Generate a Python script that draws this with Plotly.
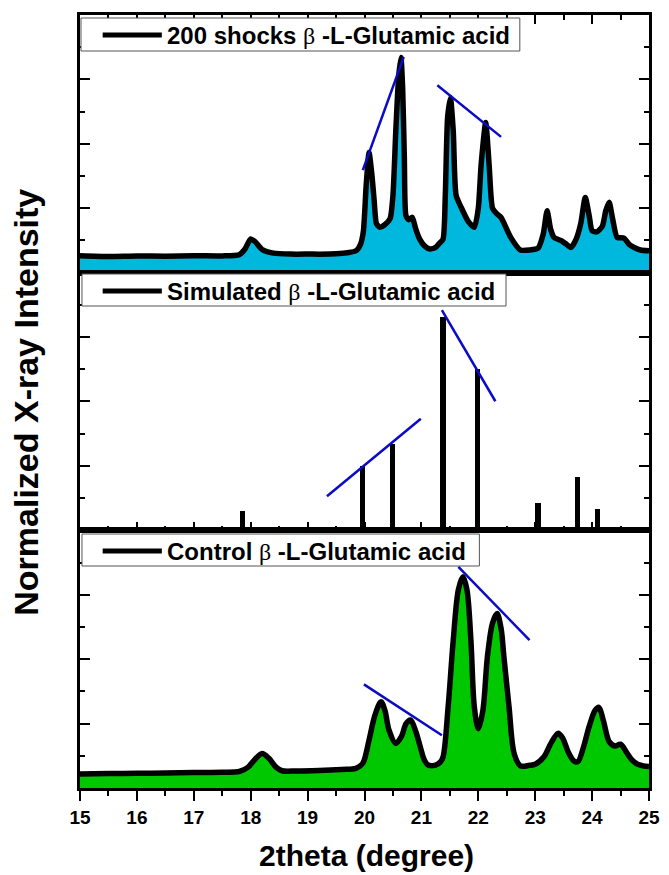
import plotly.graph_objects as go
from plotly.subplots import make_subplots

# ---------------- data (normalized intensity, % of panel height) ----------------
shock_x = [15.0, 15.5, 16.0, 16.5, 17.0, 17.5, 17.8, 17.9, 18.0, 18.08, 18.2, 18.4, 18.7, 19.0, 19.5,
           19.85, 19.93, 19.98, 20.03, 20.08, 20.13, 20.17, 20.21, 20.27, 20.35, 20.45, 20.5, 20.55,
           20.6, 20.64, 20.67, 20.7, 20.73, 20.78, 20.84, 20.9, 20.97, 21.05, 21.15, 21.25, 21.32,
           21.38, 21.42, 21.46, 21.51, 21.56, 21.61, 21.7, 21.82, 21.93, 22.0, 22.05, 22.13, 22.19,
           22.25, 22.32, 22.4, 22.57, 22.74, 22.9, 23.05, 23.14, 23.21, 23.27, 23.33, 23.45, 23.55,
           23.63, 23.72, 23.8, 23.88, 23.95, 24.0, 24.08, 24.18, 24.24, 24.3, 24.36, 24.44, 24.56,
           24.65, 24.74, 24.85, 25.0]
shock_y = [6.6, 6.3, 6.5, 6.4, 6.6, 6.5, 7.0, 9.2, 13.1, 12.0, 9.0, 7.6, 7.2, 7.2, 7.3,
           8.5, 11, 16, 34, 46.6, 38, 28, 19, 17.6, 18.5, 21, 30, 55,
           76, 83.5, 72, 45, 22, 20.5, 21.5, 17, 13, 10.5, 9.2, 9.8, 11.5,
           13, 30, 60, 67.9, 55, 30, 25.3, 20, 17.6, 25, 42, 58.3, 42,
           25, 23, 21.4, 13.7, 8.8, 8.8, 9.5, 14.9, 24, 17, 13.7, 12.5, 11,
           9.8, 13, 19, 29.2, 22, 16.3, 15.8, 18, 24, 27.3, 21, 13.7, 13.4,
           11, 9.8, 8.8, 8.5]

sim_x = [17.85, 19.97, 20.49, 21.38, 21.98, 23.05, 23.75, 24.1]
sim_y = [7.8, 25.2, 33.7, 83.0, 62.8, 10.9, 20.9, 8.5]

ctrl_x = [15.0, 15.5, 16.0, 16.5, 17.0, 17.5, 17.8, 17.95, 18.05, 18.2, 18.32, 18.45, 18.55, 18.8,
          19.2, 19.6, 19.85, 19.97, 20.08, 20.18, 20.29, 20.36, 20.43, 20.55, 20.65, 20.73, 20.81,
          20.9, 20.98, 21.05, 21.12, 21.25, 21.33, 21.38, 21.47, 21.56, 21.65, 21.73, 21.8, 21.87,
          21.93, 22.0, 22.08, 22.16, 22.25, 22.33, 22.4, 22.45, 22.54, 22.63, 22.74, 22.9, 23.0,
          23.15, 23.28, 23.4, 23.48, 23.58, 23.68, 23.75, 23.85, 23.95, 24.05, 24.12, 24.2, 24.3,
          24.4, 24.5, 24.6, 24.7, 24.8, 24.9, 25.0]
ctrl_y = [5.4, 5.6, 5.7, 5.8, 6.0, 6.1, 6.4, 8.0, 10.5, 13.4, 11.5, 8.0, 6.7, 6.6,
          6.8, 7.2, 7.6, 9.6, 18.6, 28, 33.5, 30, 22.5, 17.3, 20, 25, 26.4,
          22, 16, 11, 8.9, 8.9, 10, 12, 31.5, 57.4, 77, 82, 77, 57.4,
          31.5, 23, 30, 50.9, 64, 67.7, 62, 50.9, 31.5, 13.4, 8.6, 8.8, 9.2,
          12, 17.5, 21.2, 19.5, 14, 10.5, 10.2, 16, 24, 30, 31.3, 26, 18,
          16.3, 17, 14, 10.9, 9.2, 8.6, 8.3]

legend_labels = ["200 shocks ", "Simulated ", "Control "]
legend_greek = "β"
legend_suffix = " -L-Glutamic acid"
x_ticks = [15, 16, 17, 18, 19, 20, 21, 22, 23, 24, 25]

# guide lines (x in degree, y in % of panel) per panel
guides = [
    [((19.97, 39.8), (20.69, 83.7)), ((21.28, 72.7), (22.40, 52.7))],
    [((19.34, 13.2), (20.99, 43.3)), ((21.36, 85.5), (22.30, 50.1))],
    [((19.99, 40.2), (21.36, 20.5)), ((21.65, 85.8), (22.90, 57.4))],
]

# ---------------- figure ----------------
W, H = 669, 875
L, R, T, B = 80, 9, 15, 87
REF_PW = 577.0
PH = H - T - B
FONT = "Liberation Sans, Arial"

def px(xp):
    return (xp - L) / REF_PW

def py(yp):
    return (H - B - yp) / PH

fig = make_subplots(rows=3, cols=1, shared_xaxes=True, vertical_spacing=0)

fig.add_trace(go.Scatter(x=shock_x, y=shock_y, mode="lines", fill="tozeroy",
                         fillcolor="rgb(0,183,222)",
                         line=dict(color="black", width=5.5, shape="spline", smoothing=0.6),
                         showlegend=False), row=1, col=1)
fig.add_trace(go.Bar(x=sim_x, y=sim_y, width=0.09, marker=dict(color="black", line=dict(width=0)),
                     showlegend=False), row=2, col=1)
fig.add_trace(go.Scatter(x=ctrl_x, y=ctrl_y, mode="lines", fill="tozeroy",
                         fillcolor="rgb(0,200,0)",
                         line=dict(color="black", width=5.5, shape="spline", smoothing=0.9),
                         showlegend=False), row=3, col=1)

common_x = dict(range=[15, 25], tickvals=x_ticks, showline=True, linecolor="black", linewidth=2.5,
                mirror=True, showgrid=False, zeroline=False, tickwidth=2, tickcolor="black")
fig.update_xaxes(common_x)
fig.update_xaxes(side="top", ticks="inside", ticklen=9, showticklabels=False,
                 minor=dict(dtick=0.5, ticks="inside", ticklen=5, tickwidth=2, tickcolor="black"),
                 row=1, col=1)
fig.update_xaxes(ticks="inside", ticklen=9, showticklabels=False,
                 minor=dict(dtick=0.5, ticks="inside", ticklen=5, tickwidth=2, tickcolor="black"),
                 row=2, col=1)
fig.update_xaxes(ticks="outside", ticklen=10, showticklabels=True, ticklabeloverflow="allow",
                 tickfont=dict(family=FONT, size=19, color="black", weight="bold"),
                 minor=dict(dtick=0.5, ticks="outside", ticklen=5, tickwidth=2, tickcolor="black"),
                 row=3, col=1)
fig.update_yaxes(range=[0, 100], tickvals=[25, 50, 75], ticks="inside", ticklen=10, tickwidth=2,
                 tickcolor="black", mirror="ticks", showline=True, linecolor="black", linewidth=2.5,
                 showticklabels=False, showgrid=False, zeroline=False,
                 minor=dict(tickvals=[12.5, 37.5, 62.5, 87.5], ticks="inside", ticklen=5, tickwidth=2,
                            tickcolor="black"))

shapes = []
annotations = []
# legend boxes (pixel layout)
boxes = [(81, 526, 18, 51, 35), (82, 512, 274, 306, 291), (82, 485, 534, 566, 551)]
for (x0, x1, y0, y1, yc), lab in zip(boxes, legend_labels):
    shapes.append(dict(type="rect", xref="paper", yref="paper", x0=px(x0), x1=px(x1),
                       y0=py(y1), y1=py(y0), line=dict(color="#555555", width=1),
                       fillcolor="white", layer="above"))
    shapes.append(dict(type="line", xref="paper", yref="paper", x0=px(103), x1=px(163),
                       y0=py(yc), y1=py(yc), line=dict(color="black", width=5), layer="above"))
    text = ("<b>" + lab + "</b>"
            + "<span style='font-family:Liberation Serif, serif'>" + legend_greek + "</span>"
            + "<b>" + legend_suffix + "</b>")
    annotations.append(dict(xref="paper", yref="paper", x=px(166), y=py(yc), xanchor="left",
                            yanchor="middle", showarrow=False, text=text,
                            font=dict(family=FONT, size=24, color="black")))

# blue guide lines
axis_ids = [("x", "y"), ("x2", "y2"), ("x3", "y3")]
for (xr, yr), segs in zip(axis_ids, guides):
    for (a, b) in segs:
        shapes.append(dict(type="line", xref=xr, yref=yr, x0=a[0], y0=a[1], x1=b[0], y1=b[1],
                           line=dict(color="rgb(10,10,200)", width=2.5), layer="above"))

annotations.append(dict(xref="paper", yref="paper", x=px(371), y=py(855), showarrow=False,
                        text="<b>2theta (degree)</b>", xanchor="center", yanchor="middle",
                        font=dict(family=FONT, size=30, color="black")))
annotations.append(dict(xref="paper", yref="paper", x=px(25), y=py(402), showarrow=False,
                        text="<b>Normalized X-ray Intensity</b>", textangle=-90,
                        xanchor="center", yanchor="middle",
                        font=dict(family=FONT, size=34, color="black")))

fig.update_layout(width=W, height=H, margin=dict(l=L, r=R, t=T, b=B),
                  paper_bgcolor="white", plot_bgcolor="white", showlegend=False,
                  bargap=0, shapes=shapes, annotations=annotations)

fig.write_html("out.html")
